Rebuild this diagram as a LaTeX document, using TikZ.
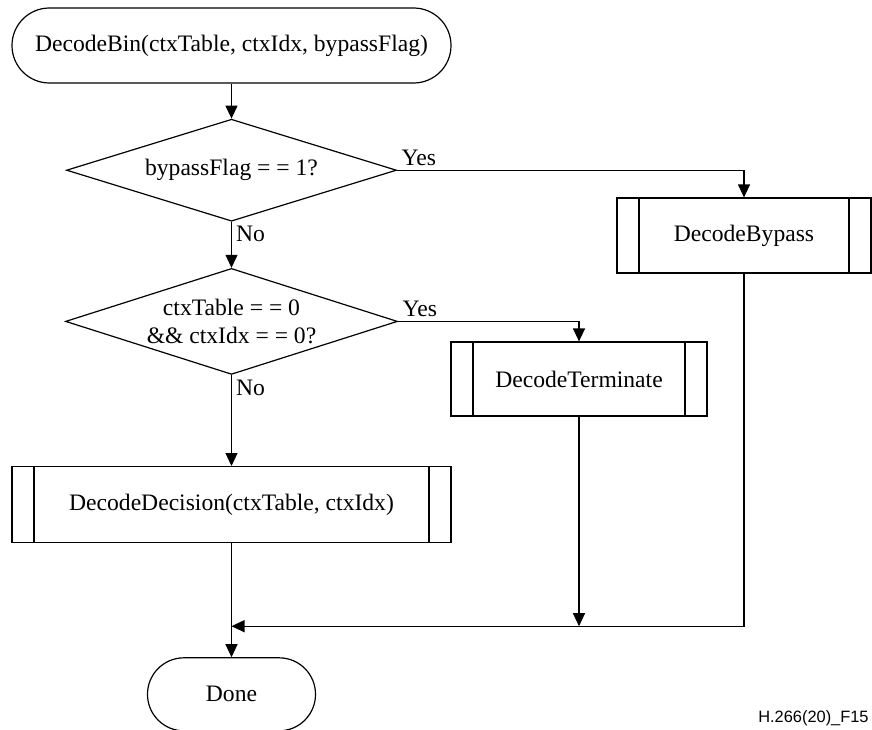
\documentclass[tikz,border=0pt]{standalone}
\usepackage{fontspec}
\setmainfont{Liberation Serif}
\newfontfamily\figfont{Liberation Sans}
\usetikzlibrary{arrows.meta, positioning, shapes.geometric}

\begin{document}
\begin{tikzpicture}[
    x=0.5pt, y=-0.5pt,
    every node/.style={font=\fontsize{11.8}{14}\selectfont},
    terminal/.style={rectangle, draw=black, line width=0.6pt, align=center, minimum height=37.5pt, rounded corners=18.7pt},
    decision/.style={diamond, draw=black, line width=0.6pt, align=center, inner sep=0pt},
    process/.style={rectangle, draw=black, line width=0.6pt, align=center, minimum height=37.5pt,
        path picture={
            \draw[line width=0.6pt] ([xshift=11pt]path picture bounding box.north west) -- ([xshift=11pt]path picture bounding box.south west);
            \draw[line width=0.6pt] ([xshift=-11pt]path picture bounding box.north east) -- ([xshift=-11pt]path picture bounding box.south east);
        }},
    lbl/.style={inner sep=2pt},
    arrow/.style={-{Triangle[length=6.5pt, width=6pt]}, line width=0.6pt}
]
\useasboundingbox (0,0) rectangle (872,729);

% ==== Main column ====
\node[terminal, minimum width=219.5pt] (start) at (231.5,45.5) {DecodeBin(ctxTable, ctxIdx, bypassFlag)};
\node[decision, aspect=3.2, minimum width=165pt, minimum height=51pt, below=17.5pt of start] (bypassq) {bypassFlag = = 1?};
\node[decision, aspect=3.13, minimum width=166pt, minimum height=53pt, below=23pt of bypassq] (termq) {ctxTable = = 0\\\&\& ctxIdx = = 0?};
\node[process, minimum width=219.5pt, minimum height=38pt, below=45.5pt of termq] (decodedec) {DecodeDecision(ctxTable, ctxIdx)};
\node[terminal, minimum width=84pt, minimum height=36.5pt, rounded corners=18.2pt, below=57pt of decodedec] (done) {Done};

% ==== Side branches ====
\node[process, minimum width=127pt] (decodebyp) at (744,235.5) {DecodeBypass};
\node[process, minimum width=128pt, minimum height=37pt] (decodeterm) at (579,379) {DecodeTerminate};

% ==== Arrows ====
\draw[arrow] (start) -- (bypassq);
\draw[arrow] (bypassq.east) -| node[lbl, pos=0, above right] {Yes} (decodebyp.north);
\draw[arrow] (bypassq.south) -- node[lbl, pos=0, below right] {No} (termq.north);
\draw[arrow] (termq.east) -| node[lbl, pos=0, above right] {Yes} (decodeterm.north);
\draw[arrow] (termq.south) -- node[lbl, pos=0, below right] {No} (decodedec.north);
\draw[arrow] (decodedec) -- (done);

% ==== Merge into Done ====
\coordinate[above=15.5pt of done.north] (merge);
\draw[arrow] (decodeterm.south) -- (decodeterm.south |- merge);
\draw[arrow] (decodebyp.south) |- (merge);

% ==== Figure tag ====
\node[anchor=east, inner sep=0pt, font=\figfont\fontsize{8.2}{10}\selectfont] (figtag) at (869,718) {H.266(20)\_F15};

\end{tikzpicture}
\end{document}
